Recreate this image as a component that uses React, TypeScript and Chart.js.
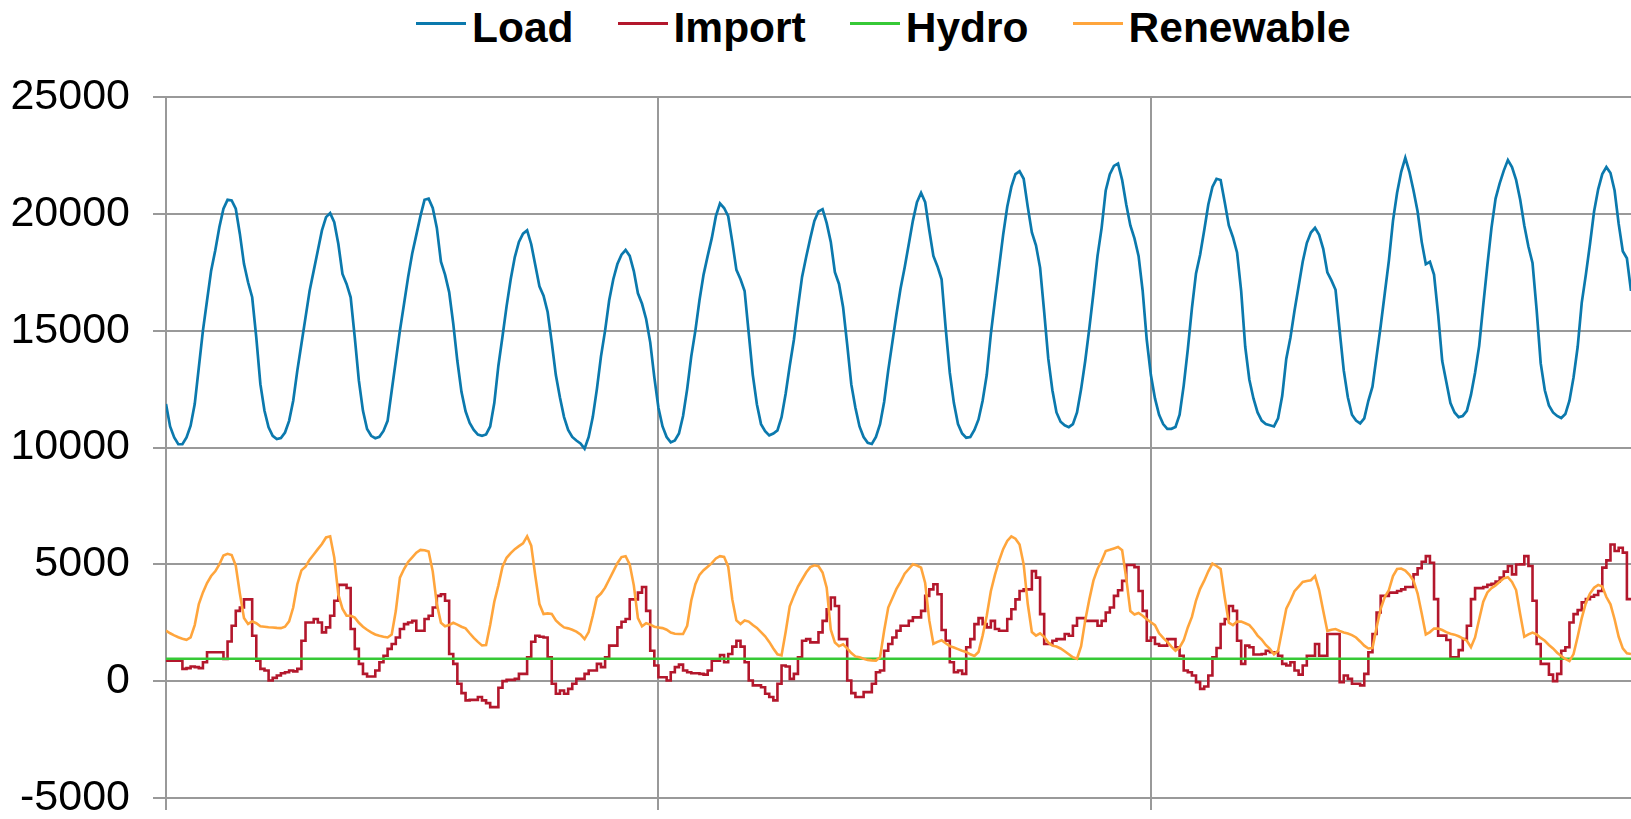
import React, { useEffect, useRef } from "react";
import { Chart, registerables } from "chart.js";

Chart.register(...registerables);

// Hourly values, 15 days (hour 0 .. 357)
const LOAD: number[] = [
  11860, 10900, 10430, 10140, 10140, 10430, 10930, 11860, 13430, 15000, 16290, 17570, 18430, 19430, 20220, 20600, 20570, 20220, 19140, 17860, 17070, 16430, 14710, 12710,
  11570, 10860, 10500, 10360, 10400, 10640, 11140, 12000, 13290, 14430, 15570, 16710, 17570, 18430, 19290, 19860, 20030, 19640, 18710, 17430, 17000, 16430, 14710, 12860,
  11570, 10790, 10500, 10400, 10460, 10710, 11140, 12430, 13710, 15000, 16140, 17290, 18300, 19100, 19900, 20600, 20650, 20250, 19400, 17950, 17400, 16650, 15300, 13700,
  12380, 11550, 11050, 10750, 10550, 10500, 10560, 10900, 11900, 13500, 14750, 16050, 17200, 18150, 18800, 19150, 19290, 18700, 17800, 16900, 16500, 15800, 14500, 13100,
  12140, 11300, 10750, 10450, 10300, 10170, 9950, 10450, 11300, 12500, 13900, 15000, 16300, 17200, 17850, 18250, 18450, 18200, 17550, 16600, 16150, 15500, 14500, 13000,
  11700, 10900, 10450, 10220, 10300, 10600, 11350, 12500, 13900, 15000, 16300, 17400, 18200, 18960, 19900, 20450, 20250, 19900, 18800, 17600, 17200, 16700, 14900, 13100,
  11840, 11000, 10700, 10520, 10600, 10730, 11300, 12300, 13500, 14600, 16000, 17300, 18150, 18950, 19700, 20100, 20200, 19600, 18800, 17500, 17000, 16000, 14400, 12700,
  11700, 10900, 10450, 10200, 10150, 10450, 11000, 11950, 13300, 14500, 15700, 16800, 17700, 18700, 19700, 20500, 20900, 20500, 19300, 18200, 17750, 17200, 15100, 13200,
  11900, 11000, 10600, 10420, 10450, 10750, 11200, 12000, 13100, 14850, 16300, 17700, 19100, 20300, 21150, 21700, 21820, 21500, 20300, 19200, 18650, 17700, 15800, 13800,
  12450, 11500, 11100, 10950, 10870, 11000, 11500, 12500, 13700, 15100, 16600, 18200, 19400, 21000, 21700, 22050, 22150, 21450, 20400, 19500, 18950, 18200, 16700, 14600,
  13100, 12100, 11400, 11000, 10800, 10800, 10880, 11400, 12650, 14200, 15950, 17450, 18250, 19300, 20400, 21150, 21500, 21450, 20500, 19500, 19000, 18350, 16700, 14300,
  12900, 12100, 11500, 11150, 11000, 10950, 10900, 11250, 12200, 13800, 14700, 15850, 16900, 17950, 18750, 19200, 19400, 19100, 18500, 17500, 17150, 16750, 15000, 13300,
  12150, 11400, 11150, 11030, 11250, 12000, 12600, 13900, 15200, 16600, 18000, 19700, 20900, 21800, 22400, 21800, 21000, 20100, 18800, 17850, 17950, 17400, 15700, 13700,
  12800, 11900, 11500, 11300, 11350, 11570, 12250, 13200, 14350, 16100, 17800, 19400, 20650, 21300, 21850, 22300, 22000, 21450, 20600, 19500, 18600, 17900, 15900, 13600,
  12450, 11800, 11500, 11350, 11260, 11430, 12000, 13000, 14300, 16200, 17400, 18700, 20100, 21050, 21700, 22000, 21750, 21000, 19570, 18400, 18100, 16700,
];

const IMPORT: number[] = [
  880, 880, 880, 880, 525, 560, 625, 600, 560, 810, 1235, 1235, 1235, 1235, 950, 1700, 2370, 3010, 3150, 3500, 3500, 1945, 880, 525,
  455, 30, 140, 240, 340, 380, 455, 420, 525, 1730, 2510, 2510, 2660, 2510, 2090, 2300, 2800, 3440, 4120, 4120, 3990, 2230, 1380, 740,
  310, 200, 200, 455, 810, 1090, 1380, 1590, 1870, 2230, 2440, 2510, 2580, 2160, 2160, 2660, 2800, 3150, 3650, 3720, 3440, 1160, 740, -110,
  -510, -820, -800, -800, -680, -820, -940, -1110, -1110, -280, 0, 57, 57, 100, 310, 310, 1020, 1690, 1945, 1900, 1870, 1020, -110, -540,
  -400, -540, -330, -110, 100, 100, 310, 455, 455, 740, 600, 1020, 1520, 1520, 2300, 2540, 2660, 3500, 3500, 3790, 4030, 3010, 1300, 670,
  170, 170, 30, 380, 600, 710, 455, 380, 340, 340, 310, 280, 455, 880, 880, 1120, 810, 1160, 1480, 1730, 1480, 810, 30, -180,
  -180, -260, -540, -680, -820, -110, 670, 625, 100, 310, 1020, 1730, 1800, 1660, 1660, 2090, 2580, 3080, 3580, 3220, 1800, 1800, 30, -510,
  -680, -680, -470, -470, -110, 380, 455, 1300, 1590, 1870, 2160, 2370, 2370, 2580, 2730, 2730, 3010, 3650, 3930, 4150, 3720, 2190, 1730, 810,
  380, 455, 310, 1450, 1800, 2440, 2700, 2440, 2300, 2580, 2230, 2160, 2160, 2660, 3080, 3500, 3860, 3930, 3930, 4710, 4430, 2870, 1590, 1590,
  1730, 1800, 1800, 2020, 1945, 2370, 2700, 2700, 2580, 2580, 2580, 2370, 2580, 2940, 3150, 3650, 3890, 4290, 4970, 4970, 4880, 3860, 3010, 1730,
  1870, 1590, 1520, 1520, 1800, 1800, 1450, 1090, 455, 380, 240, -40, -330, -230, 240, 1020, 1420, 2440, 2660, 3220, 3010, 1730, 740, 1520,
  1450, 1140, 1140, 1160, 1300, 1240, 1240, 1090, 740, 670, 810, 455, 280, 670, 1090, 1090, 1590, 1090, 1090, 2020, 2020, 2020, -40, 240,
  100, -110, -110, -180, 310, 1240, 2020, 2940, 3650, 3650, 3790, 3790, 3860, 3930, 4030, 4030, 4570, 4830, 5110, 5350, 5070, 3510, 1950, 1950,
  1760, 1020, 1020, 1330, 1800, 2370, 3510, 3980, 3980, 4030, 4120, 4170, 4260, 4430, 4690, 4930, 4570, 4990, 5000, 5350, 4930, 3440, 1590, 740,
  740, 280, 0, 310, 1300, 1450, 2510, 2870, 3040, 3370, 3510, 3610, 3690, 3860, 4860, 5170, 5850, 5570, 5710, 5500, 3510, 3510,
];

const RENEWABLE: number[] = [
  2160, 2050, 1960, 1880, 1820, 1770, 1870, 2400, 3300, 3800, 4200, 4500, 4700, 5000, 5380, 5450, 5400, 4950, 3750, 2700, 2450, 2560, 2480, 2350,
  2330, 2310, 2300, 2280, 2270, 2330, 2560, 3150, 4150, 4740, 4900, 5200, 5420, 5650, 5870, 6150, 6200, 5300, 3700, 3100, 2800, 2800, 2720, 2500,
  2330, 2200, 2090, 2000, 1945, 1900, 1870, 2000, 3000, 4430, 4800, 5100, 5300, 5500, 5620, 5600, 5550, 4700, 3300, 2500, 2350, 2400, 2500, 2420,
  2330, 2260, 2050, 1850, 1680, 1530, 1550, 2400, 3400, 4100, 4900, 5280, 5480, 5650, 5780, 5900, 6200, 5800, 4500, 3300, 2870, 2900, 2880, 2600,
  2440, 2300, 2260, 2200, 2120, 2000, 1800, 2100, 2800, 3580, 3750, 4000, 4350, 4700, 5050, 5310, 5350, 5000, 4100, 2700, 2350, 2480, 2420, 2330,
  2300, 2270, 2200, 2080, 2030, 2020, 2020, 2370, 3450, 4150, 4550, 4750, 4900, 5050, 5250, 5350, 5320, 4900, 3500, 2600, 2450, 2600, 2550, 2400,
  2280, 2100, 1920, 1680, 1400, 1150, 1100, 2100, 3200, 3650, 4050, 4350, 4650, 4880, 4960, 4920, 4650, 4000, 2200, 1650, 1500, 1580, 1400, 1200,
  1060, 1020, 960, 910, 890, 880, 1020, 2160, 3150, 3550, 3950, 4250, 4600, 4800, 5000, 4950, 4860, 4200, 2600, 1600, 1680, 1750, 1620, 1500,
  1440, 1370, 1300, 1250, 1150, 1080, 1250, 1950, 2800, 3850, 4550, 5150, 5650, 6000, 6200, 6100, 5850, 5000, 3300, 2100, 1950, 2050, 1900, 1650,
  1520, 1480, 1400, 1280, 1150, 1020, 960, 1500, 2600, 3500, 4300, 4800, 5150, 5570, 5620, 5680, 5740, 5600, 4400, 3000, 2850, 2920, 2800, 2650,
  2520, 2400, 2050, 1850, 1680, 1480, 1300, 1450, 1750, 2300, 2750, 3450, 3950, 4300, 4700, 5030, 4930, 4800, 3580, 2500, 2400, 2550, 2550, 2480,
  2400, 2200, 1950, 1780, 1550, 1380, 1150, 1300, 2200, 3100, 3450, 3850, 4050, 4250, 4290, 4320, 4500, 3900, 3010, 2150, 2200, 2230, 2150, 2080,
  2040, 1970, 1870, 1700, 1520, 1400, 1420, 2300, 3100, 3600, 3900, 4500, 4800, 4820, 4730, 4550, 4300, 3750, 2900, 2000, 2100, 2250, 2250, 2190,
  2100, 2030, 1990, 1920, 1830, 1730, 1450, 1870, 2650, 3400, 3800, 3980, 4100, 4250, 4400, 4450, 4250, 3900, 2870, 1900, 2000, 2080, 2000, 1850,
  1730, 1550, 1400, 1220, 1080, 950, 860, 1160, 1900, 2700, 3350, 3750, 4000, 4120, 4050, 3600, 3290, 2650, 1900, 1400, 1190, 1160,
];

const HYDRO_HOURS: number[] = [0, 357];
const HYDRO: number[] = [960, 960];

const SERIES_NAMES: string[] = ["Load", "Import", "Hydro", "Renewable"];
const Y_TICKS: number[] = [-5000, 0, 5000, 10000, 15000, 20000, 25000];
const X_GRID_HOURS: number[] = [0, 120, 240];

const COLORS = ["#0b79ad", "#b3172c", "#36c936", "#ffa53c"];
const GRID = "#999999";
const FONT = '"Liberation Sans", Arial, Helvetica, sans-serif';

export default function App() {
  const canvasRef = useRef<HTMLCanvasElement | null>(null);

  useEffect(() => {
    const canvas = canvasRef.current;
    if (!canvas) return;
    const toXY = (arr: number[]) => arr.map((y, i) => ({ x: i, y }));
    const chart = new Chart(canvas, {
      type: "line",
      data: {
        datasets: [
          { label: SERIES_NAMES[0], data: toXY(LOAD), borderColor: COLORS[0], borderWidth: 2.7, pointRadius: 0, tension: 0, order: 3 },
          { label: SERIES_NAMES[1], data: toXY(IMPORT), borderColor: COLORS[1], borderWidth: 2.6, pointRadius: 0, stepped: true, order: 2 },
          { label: SERIES_NAMES[2], data: HYDRO_HOURS.map((x, i) => ({ x, y: HYDRO[i] })), borderColor: COLORS[2], borderWidth: 2.6, pointRadius: 0, order: 1 },
          { label: SERIES_NAMES[3], data: toXY(RENEWABLE), borderColor: COLORS[3], borderWidth: 2.6, pointRadius: 0, tension: 0, order: 0 },
        ],
      },
      options: {
        responsive: false,
        animation: false,
        devicePixelRatio: 1,
        layout: { padding: { top: 97, left: 0, right: 0, bottom: 0 } },
        plugins: { legend: { display: false }, tooltip: { enabled: false } },
        scales: {
          x: {
            type: "linear",
            min: 0,
            max: LOAD.length - 1,
            afterBuildTicks: (s: any) => {
              s.ticks = X_GRID_HOURS.map((v) => ({ value: v }));
            },
            ticks: { display: false },
            grid: { color: GRID, lineWidth: 2, tickLength: 12, drawTicks: true },
            border: { color: GRID, width: 2 },
            afterFit: (s: any) => {
              s.height = 21;
              s.paddingLeft = 0;
              s.paddingRight = 0;
            },
          },
          y: {
            type: "linear",
            min: -5000,
            max: 25000,
            afterBuildTicks: (s: any) => {
              s.ticks = Y_TICKS.map((v) => ({ value: v }));
            },
            ticks: {
              color: "#000",
              padding: 23,
              font: { family: FONT, size: 43 },
              callback: (v: any) => String(v),
            },
            grid: { color: GRID, lineWidth: 2, tickLength: 13 },
            border: { color: GRID, width: 2 },
            afterFit: (s: any) => {
              s.width = 166;
              s.paddingTop = 0;
              s.paddingBottom = 0;
            },
          },
        },
      },
    });
    return () => chart.destroy();
  }, []);

  return (
    <div style={{ position: "absolute", left: 0, top: 0, width: 1631, height: 819, background: "#fff", overflow: "hidden" }}>
      <div
        style={{
          position: "absolute",
          left: 416,
          top: 3,
          display: "flex",
          alignItems: "center",
          fontFamily: FONT,
          fontWeight: "bold",
          fontSize: 42.5,
          lineHeight: "49px",
          color: "#000",
          whiteSpace: "nowrap",
        }}
      >
        {SERIES_NAMES.map((name, i) => (
          <div key={name} style={{ display: "flex", alignItems: "center", marginRight: 44 }}>
            <span
              style={{
                display: "inline-block",
                width: 50,
                height: 3,
                background: COLORS[i],
                marginRight: 6,
                position: "relative",
                top: -4,
              }}
            />
            <span>{name}</span>
          </div>
        ))}
      </div>
      <canvas ref={canvasRef} width={1631} height={819} style={{ position: "absolute", left: 0, top: 0 }} />
    </div>
  );
}
